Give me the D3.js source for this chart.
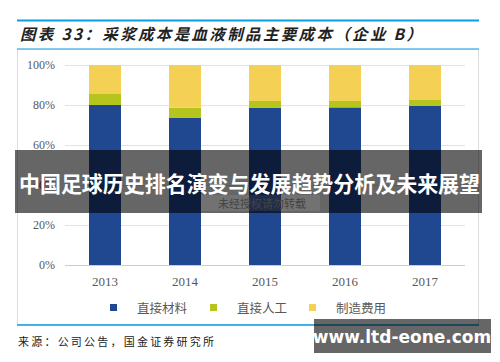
<!DOCTYPE html>
<html>
<head>
<meta charset="utf-8" />
<script src="https://d3js.org/d3.v7.min.js"></script>
<style>
  body { margin: 0; background: #fff; }
  svg { display: block; }
</style>
</head>
<body>
<div id="chart"></div>
<script>
// data
var years = ["2013", "2014", "2015", "2016", "2017"];
var material = [80.0, 73.7, 78.7, 78.8, 79.5];   // 直接材料
var labour = [5.5, 5.0, 3.3, 3.2, 3.3];          // 直接人工
var overhead = [14.5, 21.3, 18.0, 18.0, 17.2];   // 制造费用
var seriesNames = ["直接材料", "直接人工", "制造费用"];
var seriesColors = ["#1F4891", "#B5C51E", "#F4D155"];
var yTicks = [0, 20, 40, 60, 80, 100];

var width = 500, height = 362;
var margin = { top: 65, right: 35, bottom: 97, left: 65 };

var svg = d3.select("#chart").append("svg")
  .attr("width", width)
  .attr("height", height);

// frame and title
svg.append("rect")
  .attr("x", 17.5).attr("y", 49.5).attr("width", 461).attr("height", 275)
  .attr("fill", "none").attr("stroke", "#ddd");
svg.append("line").attr("x1", 17).attr("x2", 479).attr("y1", 20.5).attr("y2", 20.5)
  .attr("stroke", "#0A9EE6").attr("stroke-width", 2);
svg.append("line").attr("x1", 17).attr("x2", 479).attr("y1", 49).attr("y2", 49)
  .attr("stroke", "#5BB7EC").attr("stroke-width", 1.5);
svg.append("line").attr("x1", 17).attr("x2", 479).attr("y1", 325).attr("y2", 325)
  .attr("stroke", "#0A9EE6").attr("stroke-width", 1.5);
svg.append("text")
  .attr("x", 20).attr("y", 40)
  .attr("font-family", "Noto Sans CJK SC")
  .attr("font-size", 15.5).attr("font-weight", "bold").attr("font-style", "italic")
  .attr("fill", "#222")
  .attr("textLength", 402).attr("lengthAdjust", "spacing")
  .text("图表 33：采浆成本是血液制品主要成本（企业 B）");

svg.append("text")
  .attr("x", 18).attr("y", 346)
  .attr("font-family", "Noto Sans CJK SC")
  .attr("font-size", 11).attr("fill", "#222")
  .attr("textLength", 196).attr("lengthAdjust", "spacing")
  .text("来源：公司公告，国金证券研究所");

var data = years.map(function (y, i) {
  return { year: y, material: material[i], labour: labour[i], overhead: overhead[i] };
});
var stack = d3.stack().keys(["material", "labour", "overhead"])(data);

var x = d3.scaleBand()
  .domain(years)
  .range([margin.left, width - margin.right])
  .paddingInner(0.6)
  .paddingOuter(0.3);
var y = d3.scaleLinear()
  .domain([0, 100])
  .range([height - margin.bottom, margin.top]);

// gridlines
svg.append("g")
  .selectAll("line")
  .data(yTicks)
  .join("line")
  .attr("x1", margin.left).attr("x2", width - margin.right)
  .attr("y1", function (d) { return y(d) + 0.5; })
  .attr("y2", function (d) { return y(d) + 0.5; })
  .attr("stroke", function (d) { return d === 0 ? "#ccc" : "#e3e3e3"; })
  .attr("stroke-width", 1.2);

// y labels
svg.append("g")
  .selectAll("text")
  .data(yTicks)
  .join("text")
  .attr("x", 55)
  .attr("y", function (d) { return y(d) + 4; })
  .attr("text-anchor", "end")
  .attr("font-family", "Liberation Serif")
  .attr("font-size", 12)
  .attr("fill", "#595959")
  .text(function (d) { return d + "%"; });

// x labels
svg.append("g")
  .selectAll("text")
  .data(years)
  .join("text")
  .attr("x", function (d) { return x(d) + x.bandwidth() / 2; })
  .attr("y", 286)
  .attr("text-anchor", "middle")
  .attr("font-family", "Liberation Serif")
  .attr("font-size", 13)
  .attr("fill", "#595959")
  .text(function (d) { return d; });

// bars
svg.append("g")
  .selectAll("g")
  .data(stack)
  .join("g")
  .attr("fill", function (d, i) { return seriesColors[i]; })
  .selectAll("rect")
  .data(function (d) { return d; })
  .join("rect")
  .attr("x", function (d) { return x(d.data.year); })
  .attr("y", function (d) { return y(d[1]); })
  .attr("height", function (d) { return y(d[0]) - y(d[1]); })
  .attr("width", x.bandwidth());

// legend
var legendX = [110, 210, 309];
var legend = svg.append("g")
  .selectAll("g")
  .data(seriesNames)
  .join("g")
  .attr("transform", function (d, i) { return "translate(" + legendX[i] + ",308)"; });
legend.append("rect")
  .attr("x", 0).attr("y", -4).attr("width", 7).attr("height", 7)
  .attr("fill", function (d, i) { return seriesColors[i]; });
legend.append("text")
  .attr("x", 27).attr("y", 4.5)
  .attr("font-family", "Noto Sans CJK SC")
  .attr("font-size", 12.5)
  .attr("fill", "#595959")
  .text(function (d) { return d; });

// overlay banner
svg.append("rect")
  .attr("x", 15).attr("y", 150).attr("width", 467).attr("height", 63)
  .attr("fill", "rgba(0,0,0,0.6)");
svg.append("rect")
  .attr("x", 201).attr("y", 195).attr("width", 119).attr("height", 16)
  .attr("fill", "rgba(255,255,255,0.08)");
svg.append("text")
  .attr("x", 262).attr("y", 208)
  .attr("text-anchor", "middle")
  .attr("font-family", "Noto Sans CJK SC")
  .attr("font-size", 11)
  .attr("fill", "#444")
  .text("未经授权请勿转载");
svg.append("text")
  .attr("x", 19).attr("y", 192)
  .attr("font-family", "Noto Sans CJK SC")
  .attr("font-size", 21.5).attr("font-weight", "bold")
  .attr("fill", "#fff")
  .attr("textLength", 461).attr("lengthAdjust", "spacingAndGlyphs")
  .text("中国足球历史排名演变与发展趋势分析及未来展望");

// url badge
svg.append("rect")
  .attr("x", 314).attr("y", 319).attr("width", 177).attr("height", 34)
  .attr("fill", "rgba(0,0,0,0.6)");
svg.append("text")
  .attr("x", 402).attr("y", 343)
  .attr("text-anchor", "middle")
  .attr("font-family", "DejaVu Sans")
  .attr("font-size", 17).attr("font-weight", "bold")
  .attr("fill", "#fff")
  .text("www.ltd-eone.com");
</script>
</body>
</html>
